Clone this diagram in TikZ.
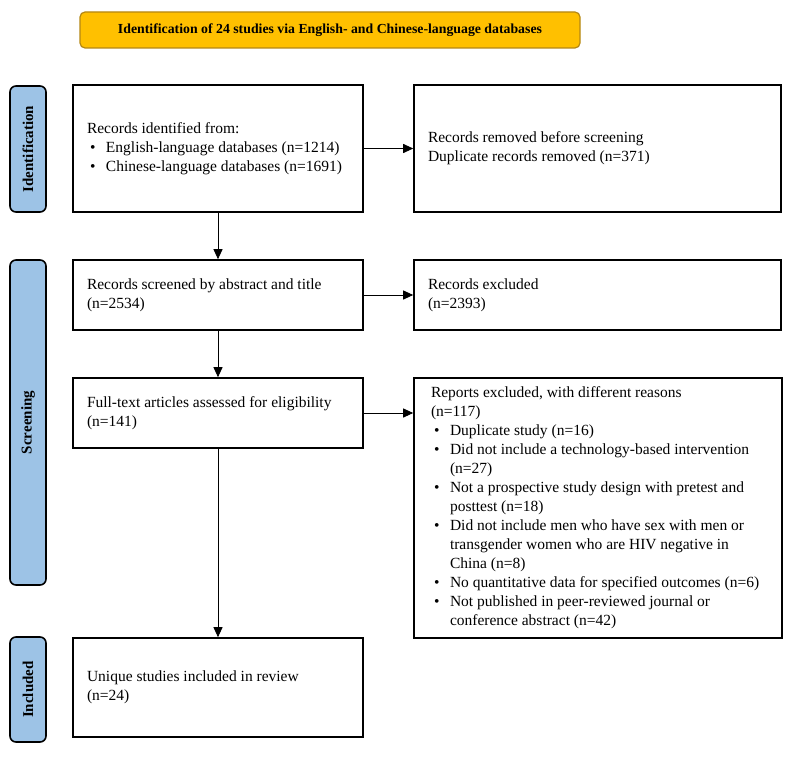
\documentclass[tikz,border=0pt]{standalone}
\usepackage{fontspec}
\setmainfont{Liberation Serif}
\usetikzlibrary{arrows.meta}

\definecolor{headgold}{RGB}{255,192,0}
\definecolor{headedge}{RGB}{180,135,20}
\definecolor{stageblue}{RGB}{157,195,230}

% bullet line with hanging indent
\newcommand{\bitem}[1]{\par\noindent\hangindent=19pt\hangafter=1\hspace*{3pt}\makebox[16pt][l]{\textbullet}#1\par}

\begin{document}
\begin{tikzpicture}[x=1pt,y=-1pt]
        \tikzstyle{box}=[draw=black,line width=1.6pt,align=flush left,inner xsep=0pt,
                         font=\fontsize{15.5}{19}\selectfont]
        \tikzstyle{stage}=[draw=black,line width=1.6pt,fill=stageblue,rounded corners=6pt,
                           minimum height=36pt,inner sep=0pt,font=\fontsize{15}{18}\selectfont\bfseries]
        \tikzstyle{arr}=[line width=0.9pt,-{Triangle[length=10pt,width=9pt]}]

      \useasboundingbox (0,0) rectangle (800,757);

      \begin{scope}
         \node[draw=headedge,line width=1.2pt,fill=headgold,rounded corners=5pt,
               minimum width=500pt,minimum height=36pt,
               font=\fontsize{13.8}{17}\selectfont\bfseries] (head) at (330,30)
               {Identification of 24 studies via English- and Chinese-language databases};

         \node[stage,rotate=90,minimum width=126pt] (lid)  at (28,149)   {Identification};
         \node[stage,rotate=90,minimum width=325pt] (lscr) at (28,422.5) {Screening};
         \node[stage,rotate=90,minimum width=105pt] (linc) at (28,689.5) {Included};

         \node[box,minimum width=290pt,minimum height=127pt,text width=262pt] (rec) at (218,148.5)
               {Records identified from:
                \bitem{English-language databases (n=1214)}
                \bitem{Chinese-language databases (n=1691)}};
         \node[box,minimum width=367pt,minimum height=127pt,text width=339pt] (rem) at (597.5,148.5)
               {Records removed before screening\\ Duplicate records removed (n=371)};

         \node[box,minimum width=290pt,minimum height=70pt,text width=262pt] (scr) at (218,295)
               {Records screened by abstract and title\\ (n=2534)};
         \node[box,minimum width=367pt,minimum height=70pt,text width=339pt] (exc) at (597.5,295)
               {Records excluded\\ (n=2393)};

         \node[box,minimum width=290pt,minimum height=70pt,text width=262pt] (full) at (218,413)
               {Full-text articles assessed for eligibility\\ (n=141)};
         \node[box,minimum width=368pt,minimum height=260pt,text width=334pt] (rsn) at (598,508)
               {Reports excluded, with different reasons\\ (n=117)
                \bitem{Duplicate study (n=16)}
                \bitem{Did not include a technology-based intervention (n=27)}
                \bitem{Not a prospective study design with pretest and posttest (n=18)}
                \bitem{Did not include men who have sex with men or transgender women who are HIV negative in China (n=8)}
                \bitem{No quantitative data for specified outcomes (n=6)}
                \bitem{Not published in peer-reviewed journal or conference abstract (n=42)}};

         \node[box,minimum width=290pt,minimum height=99pt,text width=262pt] (inc) at (218,687.5)
               {Unique studies included in review\\ (n=24)};

         \draw[arr] (rec)  to (rem);
         \draw[arr] (scr)  to (exc);
         \draw[arr] (full.east) to (full.east -| rsn.west);
         \draw[arr] (rec)  to (scr);
         \draw[arr] (scr)  to (full);
         \draw[arr] (full) to (inc);
      \end{scope}
    \end{tikzpicture}
\end{document}
